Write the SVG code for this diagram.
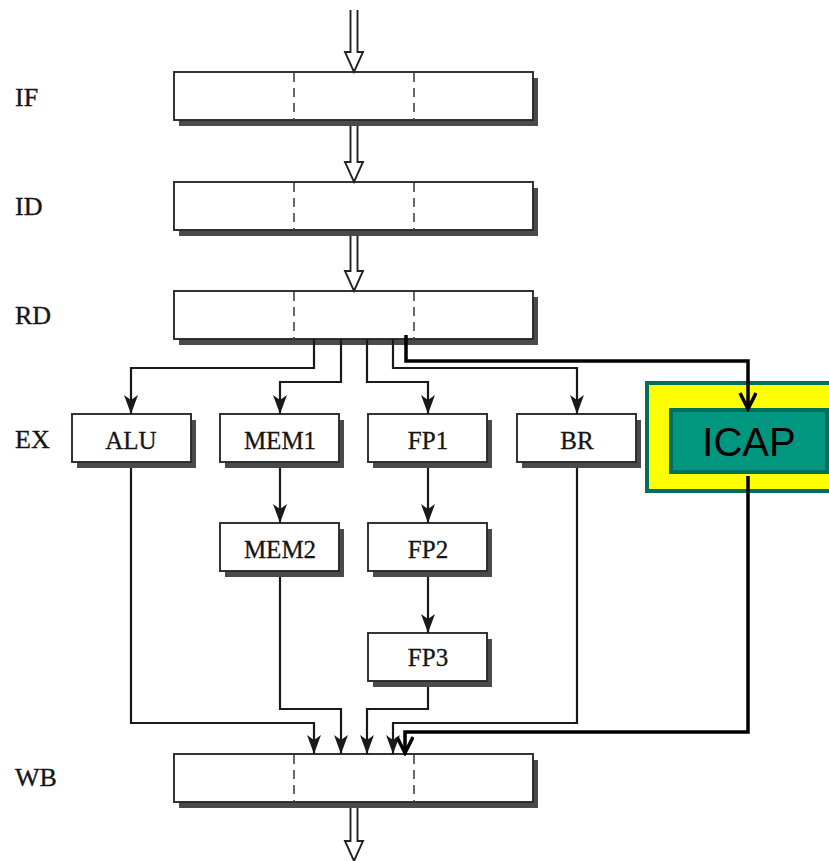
<svg xmlns="http://www.w3.org/2000/svg" width="829" height="861" viewBox="0 0 829 861">
  <defs>
    <marker id="arr" markerUnits="userSpaceOnUse" markerWidth="20" markerHeight="16" refX="19" refY="7" orient="auto">
      <path d="M0,0 L19,7 L0,14 L5,7 z" fill="#1a1a1a"/>
    </marker>
    <marker id="vhead" markerUnits="userSpaceOnUse" markerWidth="20" markerHeight="20" refX="17" refY="9" orient="auto">
      <path d="M1,1 L17,9 L1,17" fill="none" stroke="#000" stroke-width="3.5" stroke-linejoin="miter"/>
    </marker>
  </defs>
  <style>
    .shadow { fill: #4a4a4a; }
    .box { fill: #fff; stroke: #2a2a2a; stroke-width: 1.9; }
    .div { stroke: #444; stroke-width: 1.6; stroke-dasharray: 9 6; }
    .lbl { font-family: "Liberation Serif", "Times New Roman", serif; font-size: 26px; fill: #151515; stroke: #151515; stroke-width: 0.35; }
    .btxt { font-family: "Liberation Serif", "Times New Roman", serif; font-size: 25px; fill: #151515; stroke: #151515; stroke-width: 0.3; text-anchor: middle; }
    .wire { fill: none; stroke: #1a1a1a; stroke-width: 2.2; marker-end: url(#arr); }
    .bus { fill: #fff; stroke: #222; stroke-width: 1.9; }
    .thick { fill: none; stroke: #000; stroke-width: 3.5; }
  </style>

  <rect width="829" height="861" fill="#fff"/>

  <!-- stage labels -->
  <text class="lbl" x="15" y="106">IF</text>
  <text class="lbl" x="15" y="215">ID</text>
  <text class="lbl" x="15" y="324">RD</text>
  <text class="lbl" x="15" y="448">EX</text>
  <text class="lbl" x="15" y="786">WB</text>

  <!-- pipeline registers -->
  <g id="reg-if">
    <rect class="shadow" x="179" y="78" width="359" height="48"/>
    <rect class="box" x="174" y="72" width="359" height="48"/>
    <line class="div" x1="294" y1="73" x2="294" y2="120"/>
    <line class="div" x1="414" y1="73" x2="414" y2="120"/>
  </g>
  <g id="reg-id">
    <rect class="shadow" x="179" y="188" width="359" height="48"/>
    <rect class="box" x="174" y="182" width="359" height="48"/>
    <line class="div" x1="294" y1="183" x2="294" y2="230"/>
    <line class="div" x1="414" y1="183" x2="414" y2="230"/>
  </g>
  <g id="reg-rd">
    <rect class="shadow" x="179" y="297" width="359" height="48"/>
    <rect class="box" x="174" y="291" width="359" height="48"/>
    <line class="div" x1="294" y1="292" x2="294" y2="339"/>
    <line class="div" x1="414" y1="292" x2="414" y2="339"/>
  </g>
  <g id="reg-wb">
    <rect class="shadow" x="179" y="760" width="359" height="48"/>
    <rect class="box" x="174" y="754" width="359" height="48"/>
    <line class="div" x1="294" y1="755" x2="294" y2="802"/>
    <line class="div" x1="414" y1="755" x2="414" y2="802"/>
  </g>

  <!-- execution units -->
  <g id="alu">
    <rect class="shadow" x="77" y="420" width="119" height="48"/>
    <rect class="box" x="72" y="414" width="119" height="48"/>
    <text class="btxt" x="131" y="449">ALU</text>
  </g>
  <g id="mem1">
    <rect class="shadow" x="225" y="420" width="119" height="48"/>
    <rect class="box" x="220" y="414" width="119" height="48"/>
    <text class="btxt" x="280" y="449">MEM1</text>
  </g>
  <g id="fp1">
    <rect class="shadow" x="373" y="420" width="119" height="48"/>
    <rect class="box" x="368" y="414" width="119" height="48"/>
    <text class="btxt" x="428" y="449">FP1</text>
  </g>
  <g id="br">
    <rect class="shadow" x="522" y="420" width="119" height="48"/>
    <rect class="box" x="517" y="414" width="119" height="48"/>
    <text class="btxt" x="577" y="449">BR</text>
  </g>
  <g id="mem2">
    <rect class="shadow" x="225" y="529" width="119" height="48"/>
    <rect class="box" x="220" y="523" width="119" height="48"/>
    <text class="btxt" x="280" y="558">MEM2</text>
  </g>
  <g id="fp2">
    <rect class="shadow" x="373" y="529" width="119" height="48"/>
    <rect class="box" x="368" y="523" width="119" height="48"/>
    <text class="btxt" x="428" y="558">FP2</text>
  </g>
  <g id="fp3">
    <rect class="shadow" x="373" y="639" width="119" height="48"/>
    <rect class="box" x="368" y="633" width="119" height="48"/>
    <text class="btxt" x="428" y="666">FP3</text>
  </g>

  <!-- ICAP unit -->
  <g id="icap">
    <rect x="647" y="383" width="190" height="108" fill="#ffff00" stroke="#00705c" stroke-width="4"/>
    <rect x="671" y="410" width="156" height="62" fill="#00967f" stroke="#00705c" stroke-width="4"/>
    <text x="749" y="456" font-family="'Liberation Sans', Arial, sans-serif" font-size="40" fill="#000" text-anchor="middle">ICAP</text>
  </g>

  <!-- connectors -->
  <g id="connectors">
    <!-- wide buses between registers -->
    <path class="bus" d="M350.5,10 V52 H345 L354,72 L363,52 H357.5 V10"/>
    <path class="bus" d="M350.5,126 V162 H345 L354,182 L363,162 H357.5 V126"/>
    <path class="bus" d="M350.5,236 V271 H345 L354,291 L363,271 H357.5 V236"/>
    <path class="bus" d="M350.5,808 V841 H345 L354,861 L363,841 H357.5 V808"/>

    <!-- issue from RD -->
    <path class="wire" d="M314,339 V368 H131 V414"/>
    <path class="wire" d="M341,339 V382 H280 V414"/>
    <path class="wire" d="M367,339 V382 H428 V414"/>
    <path class="wire" d="M393,339 V368 H577 V414"/>

    <!-- multi-cycle pipelines -->
    <path class="wire" d="M280,468 V523"/>
    <path class="wire" d="M428,468 V523"/>
    <path class="wire" d="M428,577 V633"/>

    <!-- writeback -->
    <path class="wire" d="M131,468 V723 H314 V754"/>
    <path class="wire" d="M280,577 V709 H341 V754"/>
    <path class="wire" d="M428,687 V709 H367 V754"/>
    <path class="wire" d="M577,468 V723 H393 V754"/>

    <!-- ICAP path -->
    <path class="thick" d="M406,335 V361 H748 V409" marker-end="url(#vhead)"/>
    <path class="thick" d="M748,476 V732 H405 V753" marker-end="url(#vhead)"/>
  </g>
</svg>
